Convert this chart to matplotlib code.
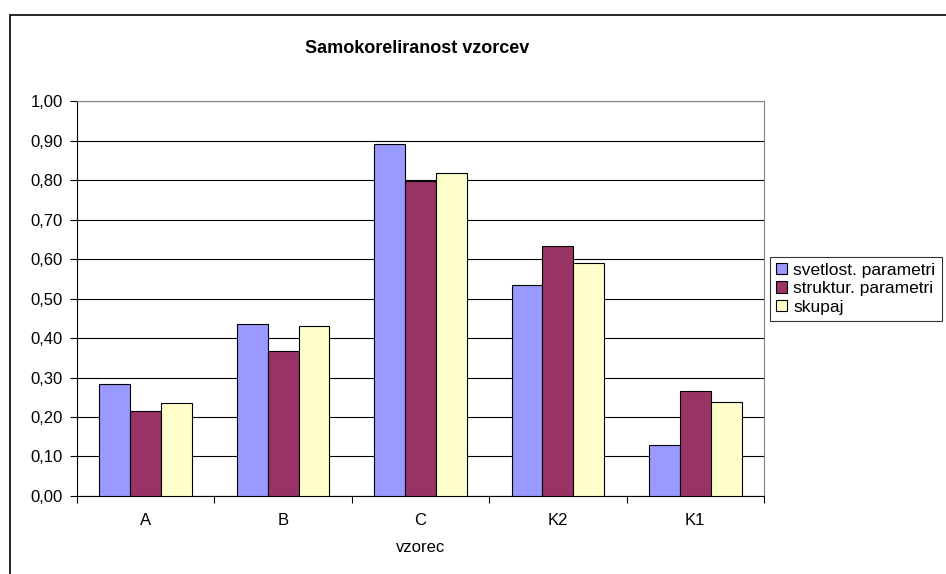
import numpy as np
import matplotlib
matplotlib.use("Agg")
import matplotlib.pyplot as plt
from matplotlib.patches import Rectangle, Patch

plt.rcParams['font.family'] = ['Liberation Sans', 'DejaVu Sans']

# data
vzorci = ["A", "B", "C", "K2", "K1"]
svetlost = [0.284, 0.435, 0.890, 0.533, 0.130]
struktur = [0.215, 0.368, 0.797, 0.632, 0.267]
skupaj = [0.236, 0.431, 0.818, 0.589, 0.238]
serije = ["svetlost. parametri", "struktur. parametri", "skupaj"]
barve = ["#9999FF", "#993366", "#FFFFCC"]

fig = plt.figure(figsize=(9.46, 5.74), dpi=100)
ax = fig.add_axes([0.0814, 0.1359, 0.7262, 0.6881])

x = np.arange(len(vzorci))
w = 0.225
for i, vals in enumerate([svetlost, struktur, skupaj]):
    ax.bar(x + (i - 1) * w, vals, w, color=barve[i], edgecolor="black",
           linewidth=0.8, zorder=3)

ax.set_xlim(-0.5, len(vzorci) - 0.5)
ax.set_ylim(0, 1.0)
ax.set_yticks(np.arange(0, 1.01, 0.1))
ax.set_yticklabels(["{:.2f}".format(v).replace(".", ",") for v in np.arange(0, 1.01, 0.1)],
                   fontsize=12)
ax.yaxis.grid(True, color="black", linewidth=0.8, zorder=0)
ax.set_axisbelow(True)

# category labels centred, ticks on boundaries
ax.set_xticks(x)
ax.set_xticklabels(vzorci, fontsize=12)
ax.tick_params(axis="x", which="major", length=0, pad=12)
ax.set_xticks(np.arange(-0.5, len(vzorci)), minor=True)
ax.tick_params(axis="x", which="minor", length=5, width=0.8, direction="out")
ax.tick_params(axis="y", length=5, width=0.8, direction="out", pad=5)

for s in ["top", "right"]:
    ax.spines[s].set_color("#808080")
for s in ["left", "bottom"]:
    ax.spines[s].set_color("black")
for s in ax.spines.values():
    s.set_linewidth(0.8)

ax.set_xlabel("vzorec", fontsize=12, labelpad=9)
fig.text(0.441, 0.916, "Samokoreliranost vzorcev", fontsize=13,
         fontweight="bold", ha="center", va="center")

handles = [Patch(facecolor=c, edgecolor="black", linewidth=0.8) for c in barve]
leg = fig.legend(handles, serije, loc="upper left", bbox_to_anchor=(0.814, 0.553),
                 fontsize=12.5, frameon=True, fancybox=False, handlelength=0.6,
                 handleheight=0.6, handletextpad=0.4, borderpad=0.35,
                 labelspacing=0.2, borderaxespad=0)
leg.get_frame().set_edgecolor("black")
leg.get_frame().set_linewidth(0.8)

# outer chart border (runs off the right and bottom edges)
fig.patches.append(Rectangle((0.0106, -0.1), 1.2, 0.1 + 0.974, transform=fig.transFigure,
                             fill=False, edgecolor="black", linewidth=1.2))

fig.savefig("out.png", dpi=100)
